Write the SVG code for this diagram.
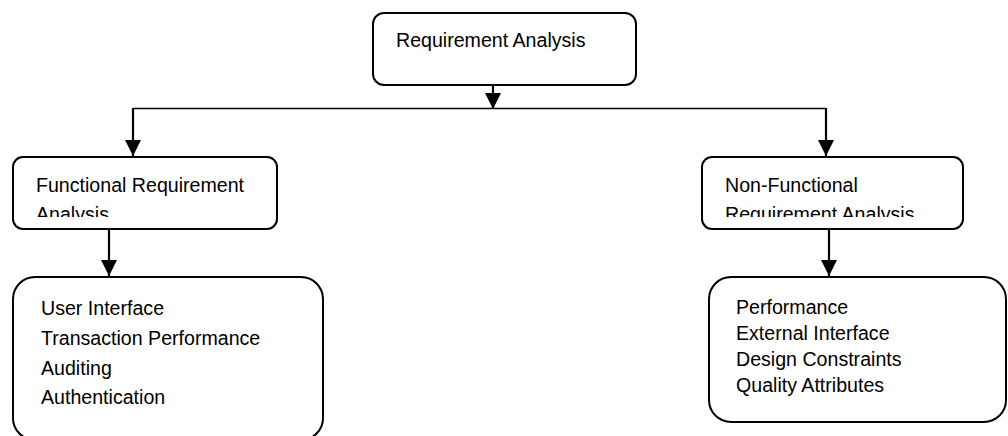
<svg xmlns="http://www.w3.org/2000/svg" width="1008" height="436" viewBox="0 0 1008 436">
  <style>
    .box { fill: #ffffff; stroke: #000000; stroke-width: 2; }
    .lbl { font-family: "Liberation Sans", Arial, sans-serif; font-size: 19.6px; fill: #000000; }
    .wire { fill: none; stroke: #000000; stroke-width: 2.2; }
    .bus { fill: none; stroke: #000000; stroke-width: 1.6; }
  </style>
  <defs>
    <marker id="arrow" viewBox="0 0 16 16" refX="16" refY="8" markerWidth="16" markerHeight="16" markerUnits="userSpaceOnUse" orient="auto">
      <path d="M0,0 L16,8 L0,16 Z" fill="#000000"/>
    </marker>
    <clipPath id="clipF">
      <rect x="14" y="158" width="262" height="59"/>
    </clipPath>
    <clipPath id="clipNF">
      <rect x="703" y="158" width="259" height="59"/>
    </clipPath>
  </defs>

  <g id="connectors">
    <line class="wire" x1="493" y1="85" x2="493" y2="109" marker-end="url(#arrow)"/>
    <polyline class="bus" points="133,108.5 826,108.5"/>
    <line class="wire" x1="133" y1="108" x2="133" y2="156" marker-end="url(#arrow)"/>
    <line class="wire" x1="826" y1="108" x2="826" y2="156" marker-end="url(#arrow)"/>
    <line class="wire" x1="109" y1="226" x2="109" y2="276" marker-end="url(#arrow)"/>
    <line class="wire" x1="829" y1="226" x2="829" y2="276" marker-end="url(#arrow)"/>
  </g>

  <g id="node-requirement-analysis">
    <rect class="box" x="373" y="13" width="263" height="72" rx="11" ry="11"/>
    <text class="lbl" x="396" y="47">Requirement Analysis</text>
  </g>

  <g id="node-functional">
    <rect class="box" x="13" y="157" width="264" height="72" rx="10" ry="10"/>
    <g clip-path="url(#clipF)">
      <text class="lbl" x="36" y="192">Functional Requirement</text>
      <text class="lbl" x="36" y="221">Analysis</text>
    </g>
  </g>

  <g id="node-non-functional">
    <rect class="box" x="702" y="157" width="261" height="72" rx="10" ry="10"/>
    <g clip-path="url(#clipNF)">
      <text class="lbl" x="725" y="192">Non-Functional</text>
      <text class="lbl" x="725" y="221">Requirement Analysis</text>
    </g>
  </g>

  <g id="node-functional-list">
    <rect class="box" x="13" y="277" width="310" height="163" rx="22" ry="22"/>
    <text class="lbl" x="41" y="315">User Interface</text>
    <text class="lbl" x="41" y="345">Transaction Performance</text>
    <text class="lbl" x="41" y="375">Auditing</text>
    <text class="lbl" x="41" y="404">Authentication</text>
  </g>

  <g id="node-non-functional-list">
    <rect class="box" x="709" y="277" width="297" height="145" rx="22" ry="22"/>
    <text class="lbl" x="736" y="314">Performance</text>
    <text class="lbl" x="736" y="340">External Interface</text>
    <text class="lbl" x="736" y="366">Design Constraints</text>
    <text class="lbl" x="736" y="392">Quality Attributes</text>
  </g>
</svg>
